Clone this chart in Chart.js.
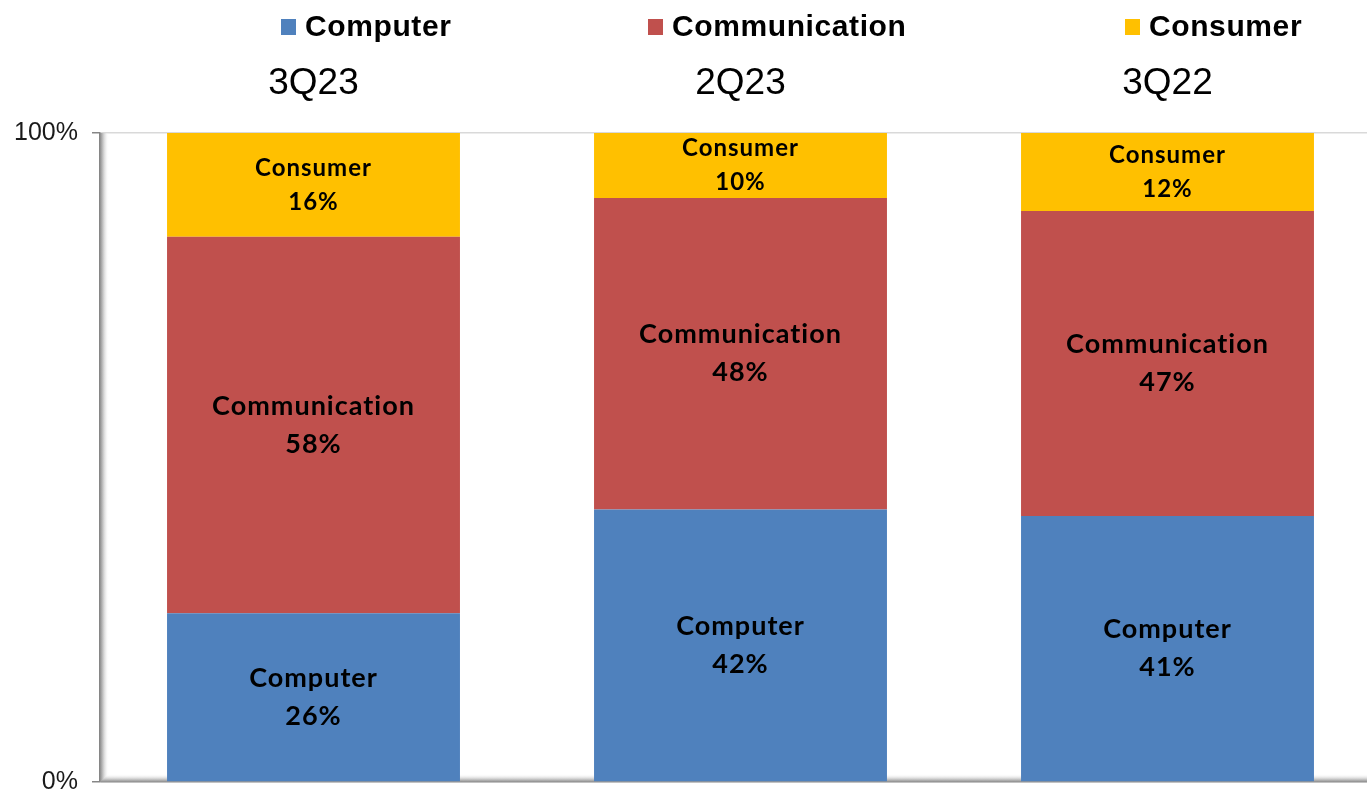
<!DOCTYPE html>
<html>
<head>
<meta charset="utf-8">
<script src="https://cdn.jsdelivr.net/npm/chart.js@4.4.0/dist/chart.umd.min.js"></script>
<style>
  html, body { margin: 0; padding: 0; background: #ffffff; overflow: hidden; }
  #wrap { position: absolute; left: 0; top: 0; width: 1381px; height: 811px; }
</style>
</head>
<body>
<div id="wrap"><canvas id="c" width="1381" height="811"></canvas></div>
<script>
// ---- data ----
const categories = ['3Q23', '2Q23', '3Q22'];
const seriesNames = ['Computer', 'Communication', 'Consumer'];
const computerShare = [26, 42, 41];
const communicationShare = [58, 48, 47];
const consumerShare = [16, 10, 12];
const yTickValues = [0, 100];
const seriesColors = ['#4F81BD', '#C0504D', '#FFC000'];

// ---- styling ----
const legendBoxX = [281, 648, 1125];
const labelFont = 'Lato, "Open Sans", sans-serif';
const arialFont = '"Liberation Sans", Arial, sans-serif';

const wallPlugin = {
  id: 'wall',
  beforeDatasetsDraw(chart) {
    const { ctx, chartArea: a } = chart;
    ctx.save();
    let g = ctx.createLinearGradient(a.left, 0, a.left + 9, 0);
    g.addColorStop(0, '#8c8c8c');
    g.addColorStop(0.35, '#c8c8c8');
    g.addColorStop(1, 'rgba(255,255,255,0)');
    ctx.fillStyle = g;
    ctx.fillRect(a.left, a.top, 9, a.bottom - a.top);
    g = ctx.createLinearGradient(0, a.bottom, 0, a.bottom - 8);
    g.addColorStop(0, '#8c8c8c');
    g.addColorStop(0.35, '#c8c8c8');
    g.addColorStop(1, 'rgba(255,255,255,0)');
    ctx.fillStyle = g;
    ctx.beginPath();
    ctx.moveTo(a.left, a.bottom);
    ctx.lineTo(a.left + 9, a.bottom - 8);
    ctx.lineTo(a.right, a.bottom - 8);
    ctx.lineTo(a.right, a.bottom);
    ctx.closePath();
    ctx.fill();
    ctx.restore();
  }
};

const labelPlugin = {
  id: 'segLabels',
  afterDatasetsDraw(chart) {
    const { ctx } = chart;
    ctx.save();
    ctx.textAlign = 'center';
    ctx.textBaseline = 'middle';
    ctx.fillStyle = '#000000';
    if ('letterSpacing' in ctx) ctx.letterSpacing = '1px';
    chart.data.datasets.forEach((ds, di) => {
      const meta = chart.getDatasetMeta(di);
      const small = di === 2;
      const size = small ? 24 : 27;
      const gap = small ? 34 : 38;
      ctx.font = 'bold ' + size + 'px ' + labelFont;
      meta.data.forEach((bar, i) => {
        const cy = (bar.y + bar.base) / 2;
        ctx.fillText(ds.label, bar.x, cy - gap / 2);
        ctx.fillText(ds.data[i] + '%', bar.x, cy + gap / 2);
      });
    });
    ctx.restore();
  }
};

const legendPlugin = {
  id: 'customLegend',
  afterDraw(chart) {
    const { ctx } = chart;
    ctx.save();
    ctx.textBaseline = 'middle';
    ctx.textAlign = 'left';
    ctx.font = 'bold 30px ' + arialFont;
    if ('letterSpacing' in ctx) ctx.letterSpacing = '0.6px';
    chart.data.datasets.forEach((ds, di) => {
      const x = legendBoxX[di];
      ctx.fillStyle = ds.backgroundColor;
      ctx.fillRect(x, 19, 15, 16);
      ctx.fillStyle = '#000000';
      ctx.fillText(ds.label, x + 24, 28);
    });
    ctx.restore();
  }
};

new Chart(document.getElementById('c'), {
  type: 'bar',
  data: {
    labels: categories,
    datasets: [
      { label: seriesNames[0], data: computerShare, backgroundColor: seriesColors[0] },
      { label: seriesNames[1], data: communicationShare, backgroundColor: seriesColors[1] },
      { label: seriesNames[2], data: consumerShare, backgroundColor: seriesColors[2] }
    ]
  },
  options: {
    responsive: false,
    animation: false,
    devicePixelRatio: 1,
    layout: { padding: { left: 0, right: 0, top: 0, bottom: 10 } },
    datasets: { bar: { categoryPercentage: 1.0, barPercentage: 0.686, borderWidth: 0 } },
    plugins: { legend: { display: false }, tooltip: { enabled: false } },
    scales: {
      x: {
        stacked: true,
        position: 'top',
        grid: { display: false, drawTicks: false },
        border: { display: false },
        ticks: { color: '#000000', font: { family: arialFont, size: 37, lineHeight: 1.2 }, padding: 27, maxRotation: 0 },
        afterFit(s) { s.height = 133; }
      },
      y: {
        stacked: true,
        min: 0,
        max: 100,
        afterBuildTicks(s) { s.ticks = yTickValues.map(v => ({ value: v })); },
        ticks: { color: '#1a1a1a', font: { family: arialFont, size: 25 }, padding: 14, callback: v => v + '%' },
        grid: {
          color: ctx => ctx.tick && ctx.tick.value === 100 ? '#d9d9d9' : '#868686',
          tickColor: '#868686',
          tickLength: 8,
          lineWidth: 1.5
        },
        border: { display: true, color: '#868686', width: 1.5 },
        afterFit(s) { s.width = 100; }
      }
    }
  },
  plugins: [wallPlugin, labelPlugin, legendPlugin]
});
</script>
</body>
</html>
